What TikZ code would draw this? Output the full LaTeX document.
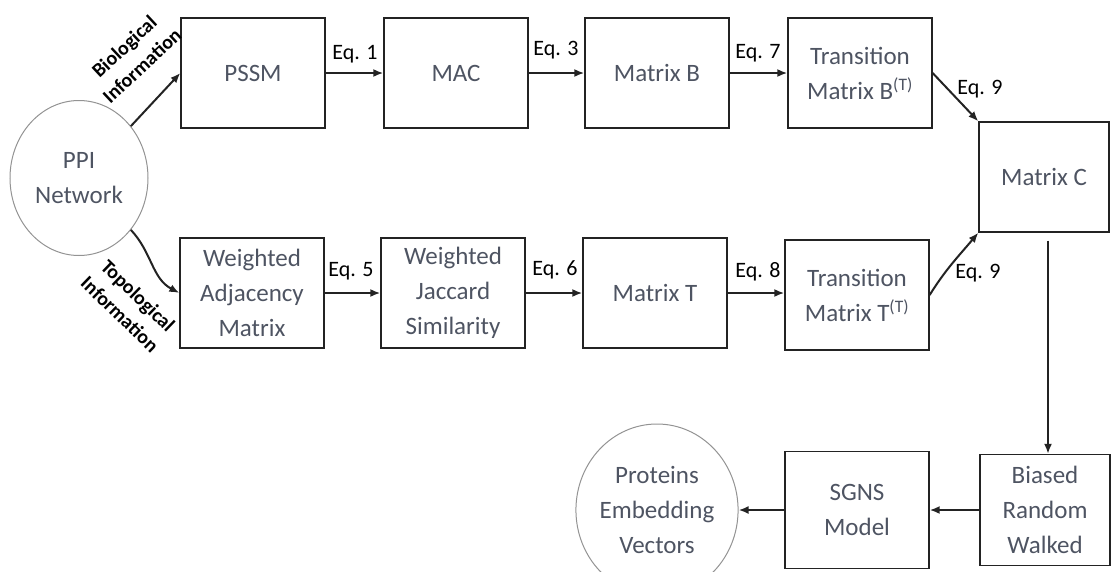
\documentclass[tikz,border=0pt]{standalone}
\usepackage{fontspec}
\setmainfont{Carlito}
\usetikzlibrary{shapes.geometric, arrows.meta}
\definecolor{txtgray}{RGB}{78,84,98}
\definecolor{lineblack}{RGB}{35,35,35}
\begin{document}
\begin{tikzpicture}[x=1pt, y=-1pt, >={Latex[length=10pt, width=8pt]},
		box/.style={rectangle, draw=lineblack, line width=1.3pt, minimum width=144pt, minimum height=110pt, inner sep=0pt, align=center, text=txtgray, font=\fontsize{25}{35}\selectfont},
		blob/.style={ellipse, draw=gray!85, line width=1pt, minimum width=138pt, minimum height=155pt, inner sep=0pt, align=center, text=txtgray, font=\fontsize{25}{35}\selectfont},
		eq/.style={font=\fontsize{22}{24}\selectfont, text=black},
		info/.style={font=\bfseries\fontsize{20}{26}\selectfont, align=center, text=black},
		link/.style={->, draw=lineblack, line width=2pt}]
		    \useasboundingbox (0,0) rectangle (1111,571);
		    \node[blob] (ppi) at (79, 178) {PPI\\Network};
		    \node[box] (pssm) at (253, 73) {PSSM};
		    \node[box] (mac) at (456, 73) {MAC};
		    \node[box] (mb) at (657, 73) {Matrix B};
		    \node[box] (tb) at (860, 73) {Transition\\Matrix B\textsuperscript{(T)}};
		    \node[box, minimum width=130pt] (mc) at (1044, 177) {Matrix C};
		    \node[box] (wa) at (252, 293) {Weighted\\Adjacency\\Matrix};
		    \node[box] (wj) at (453, 293) {Weighted\\Jaccard\\Similarity};
		    \node[box] (mt) at (655, 293) {Matrix T};
		    \node[box] (tt) at (857, 295) {Transition\\Matrix T\textsuperscript{(T)}};
		    \node[box, minimum width=130pt, minimum height=111pt] (brw) at (1045, 510) {Biased\\Random\\Walked};
		    \node[box, minimum height=117pt] (sgns) at (857, 510) {SGNS\\Model};
		    \node[blob, minimum height=172pt] (pev) at (657, 510) {Proteins\\Embedding\\Vectors};

		    % edge labels
		    \node[info, rotate=43] (bio) at (133, 56) {Biological\\Information};
		    \node[info, rotate=-44] (topo) at (129, 305) {Topological\\Information};
		    \node[eq] (e1) at (355, 54) {Eq. 1};
		    \node[eq] (e3) at (556, 50) {Eq. 3};
		    \node[eq] (e7) at (758, 53) {Eq. 7};
		    \node[eq] (e9a) at (980, 89) {Eq. 9};
		    \node[eq] (e5) at (351, 271) {Eq. 5};
		    \node[eq] (e6) at (555, 270) {Eq. 6};
		    \node[eq] (e8) at (758, 272) {Eq. 8};
		    \node[eq] (e9b) at (978, 273) {Eq. 9};

		    \draw[link] (ppi.45) -- (pssm.west);
		    \draw[link] (ppi.-45) to[out=-47, in=152] (wa.west);
		    \draw[link] (pssm) -- (mac);
		    \draw[link] (mac) -- (mb);
		    \draw[link] (mb) -- (tb);
		    \draw[link] (tb.east) -- (mc.north west);
		    \draw[link] (wa) -- (wj);
		    \draw[link] (wj) -- (mt);
		    \draw[link] (mt.east) -- (mt.east -| tt.west);
		    \draw[link] (tt.east) to[out=58, in=-130] (mc.south west);
		    \draw[link, shorten <=8pt] ([xshift=4pt]mc.south) -- ([xshift=4pt]mc.south |- brw.north);
		    \draw[link] (brw) -- (sgns);
		    \draw[link] (sgns) -- (pev);
\end{tikzpicture}
\end{document}
